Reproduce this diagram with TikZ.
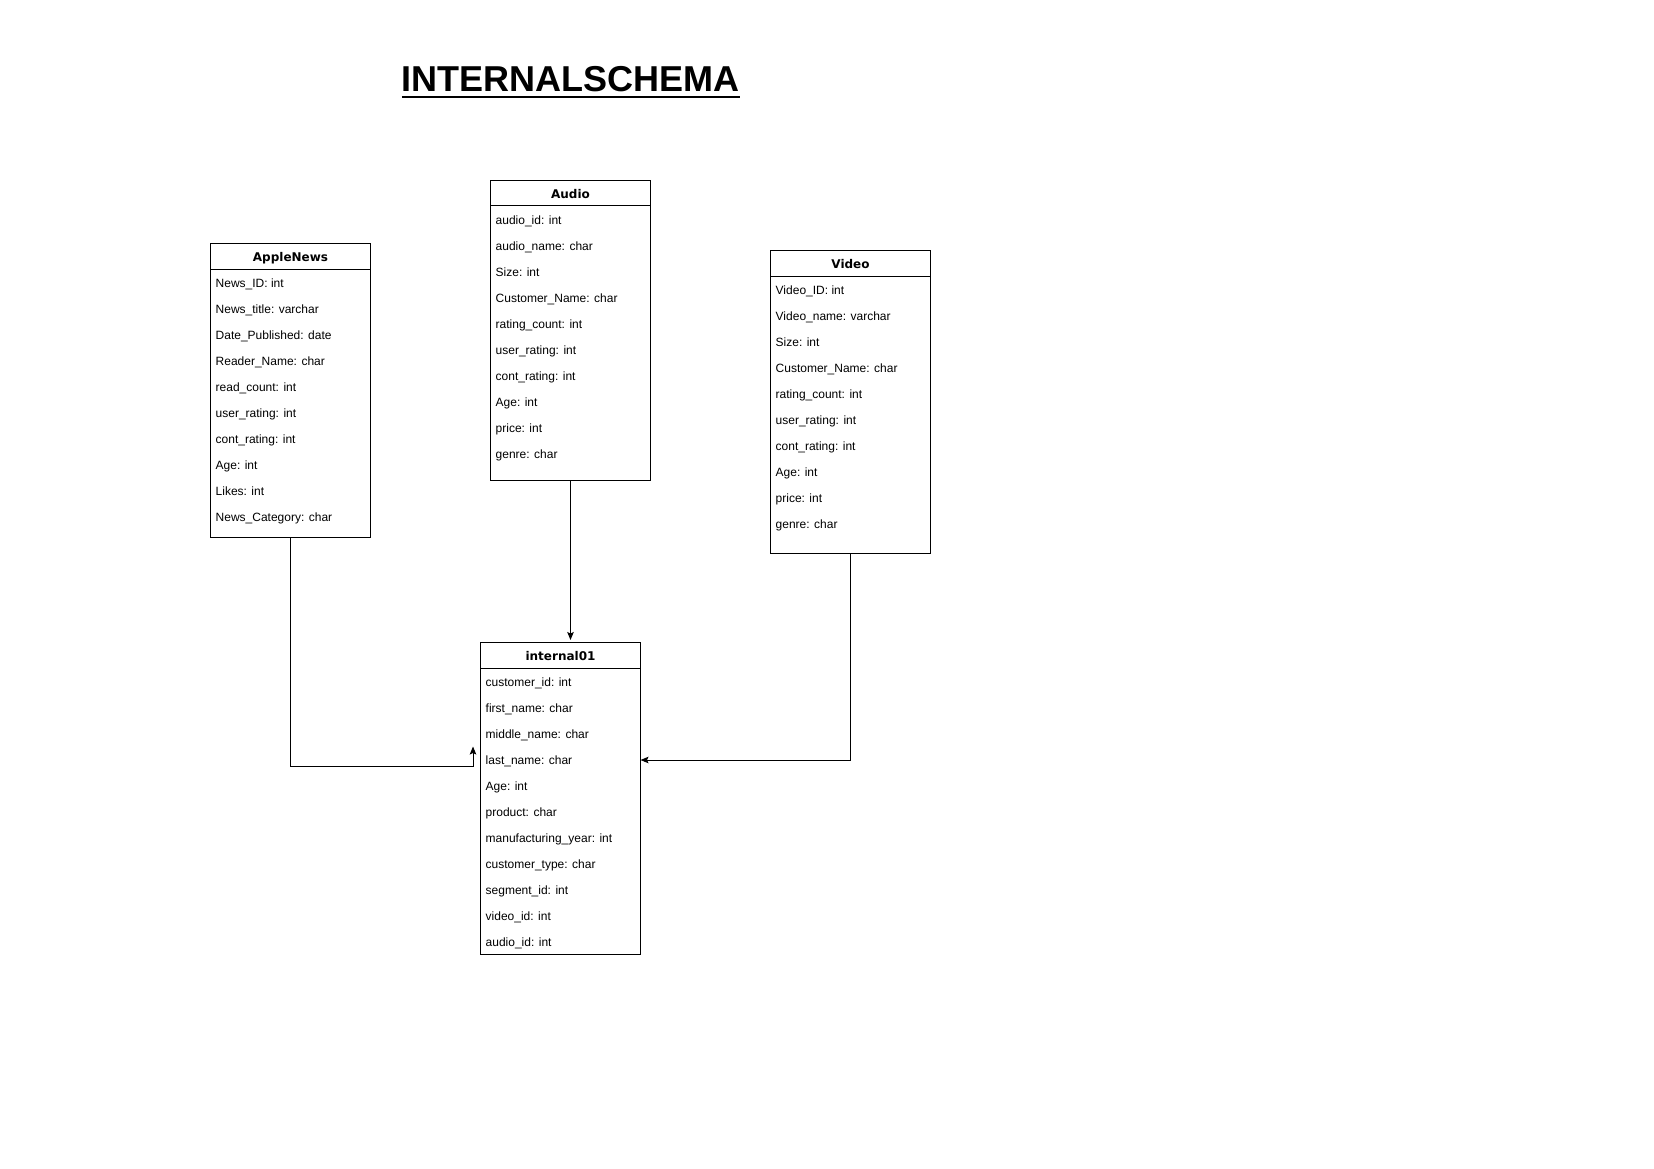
\documentclass[tikz,border=0pt]{standalone}
\usepackage{fontspec}
\setmainfont{Liberation Sans}
\newfontfamily\hdrfont{DejaVu Sans}
\usetikzlibrary{arrows.meta}
\begin{document}
\begin{tikzpicture}[x=1pt,y=-1pt,
  tbl/.style={draw=black, line width=1pt, fill=white, inner sep=0pt, outer sep=0pt,
    minimum width=160pt, anchor=north west},
  hdr/.style={inner sep=0pt, anchor=base, font=\hdrfont\bfseries\fontsize{12}{14}\selectfont},
  row/.style={inner sep=0pt, anchor=base west, font=\fontsize{12}{14}\selectfont},
  conn/.style={draw=black, line width=1pt, -{Stealth[length=8pt,width=6.5pt,inset=1.5pt]}},
  hline/.style={draw=black, line width=1pt},
  ttl/.style={inner sep=0pt, anchor=base, font=\bfseries\fontsize{36}{40}\selectfont}
]
\useasboundingbox[fill=white] (0,0) rectangle (1654,1169);

% title
\node[ttl] (title) at (570.5,92) {INTERNALSCHEMA};
\draw[line width=2.5pt] ([yshift=-5pt,xshift=0.5pt]title.base west) -- ([yshift=-5pt]title.base east);

% tables
\node[tbl, minimum height=294pt] (apple) at (210.5,243.5) {};
\node[tbl, minimum height=300pt] (audio) at (490.5,180.5) {};
\node[tbl, minimum height=303pt] (video) at (770.5,250.5) {};
\node[tbl, minimum height=312pt] (intl) at (480.5,642.5) {};

% header separators
\foreach \t in {apple,audio,video,intl}{
  \draw[hline] ([yshift=-25.5pt]\t.north west) -- ([yshift=-25.5pt]\t.north east);
}

% header texts
\node[hdr] (apple-h) at ([yshift=-17.6pt]apple.north) {AppleNews};
\node[hdr] (audio-h) at ([yshift=-17.6pt]audio.north) {Audio};
\node[hdr] (video-h) at ([yshift=-17.6pt]video.north) {Video};
\node[hdr] (intl-h) at ([yshift=-17.6pt]intl.north) {internal01};

% rows
\foreach \t [count=\i from 0] in {News\_ID: int, News\_title: varchar, Date\_Published: date,
  Reader\_Name: char, read\_count: int, user\_rating: int, cont\_rating: int, Age: int,
  Likes: int, News\_Category: char}{
  \node[row] (apple-r\i) at ([shift={(5pt,-44pt-26*\i pt)}]apple.north west) {\t};
}
\foreach \t [count=\i from 0] in {audio\_id: int, audio\_name: char, Size: int,
  Customer\_Name: char, rating\_count: int, user\_rating: int, cont\_rating: int, Age: int,
  price: int, genre: char}{
  \node[row] (audio-r\i) at ([shift={(5pt,-44pt-26*\i pt)}]audio.north west) {\t};
}
\foreach \t [count=\i from 0] in {Video\_ID: int, Video\_name: varchar, Size: int,
  Customer\_Name: char, rating\_count: int, user\_rating: int, cont\_rating: int, Age: int,
  price: int, genre: char}{
  \node[row] (video-r\i) at ([shift={(5pt,-44pt-26*\i pt)}]video.north west) {\t};
}
\foreach \t [count=\i from 0] in {customer\_id: int, first\_name: char, middle\_name: char,
  last\_name: char, Age: int, product: char, manufacturing\_year: int, customer\_type: char,
  segment\_id: int, video\_id: int, audio\_id: int}{
  \node[row] (intl-r\i) at ([shift={(5pt,-44pt-26*\i pt)}]intl.north west) {\t};
}

% connectors
\coordinate (aBend) at (473,766.5);
\coordinate (aTip) at (473,746.5);
\draw[conn] (apple.south) |- (aBend) -- (aTip);

\draw[conn, shorten >=2.5pt] (audio.south) -- (audio.south |- intl.north);

\coordinate (vTip) at (640.5,760);
\draw[conn] (video.south) |- (vTip);
\end{tikzpicture}
\end{document}
